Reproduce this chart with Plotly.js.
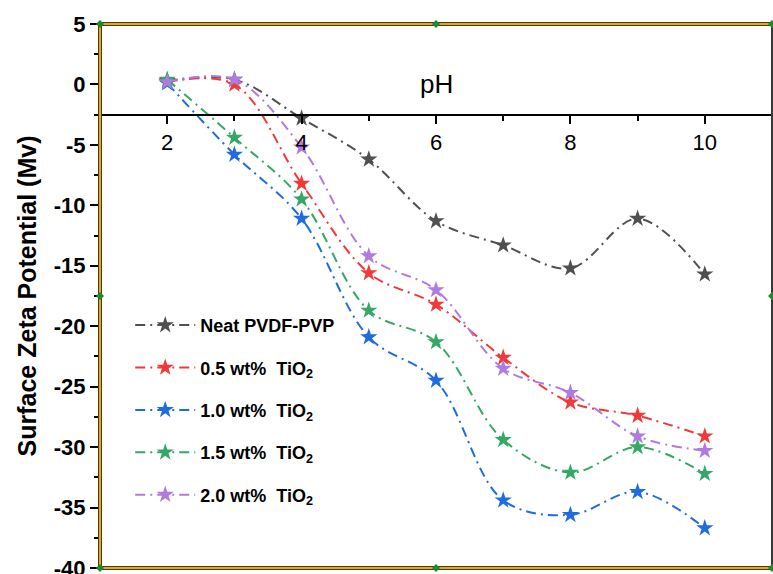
<!DOCTYPE html>
<html><head><meta charset="utf-8">
<script src="https://cdn.plot.ly/plotly-3.0.1.min.js"></script>
<style>body{margin:0;padding:0;background:#fff}#chart{width:773px;height:574px}</style>
</head><body><div id="chart"></div>
<script>
const pH = [2, 3, 4, 5, 6, 7, 8, 9, 10];
const neat = [0.3, 0.4, -2.8, -6.2, -11.3, -13.3, -15.2, -11.1, -15.7];
const tio05 = [0.2, 0.0, -8.2, -15.6, -18.2, -22.6, -26.3, -27.4, -29.1];
const tio10 = [0.1, -5.8, -11.1, -20.9, -24.5, -34.4, -35.6, -33.7, -36.7];
const tio15 = [0.4, -4.4, -9.5, -18.7, -21.3, -29.4, -32.1, -30.0, -32.2];
const tio20 = [0.2, 0.4, -5.2, -14.2, -17.0, -23.5, -25.5, -29.1, -30.3];
const names = ['Neat PVDF-PVP', '0.5 wt%  TiO<sub>2</sub>', '1.0 wt%  TiO<sub>2</sub>', '1.5 wt%  TiO<sub>2</sub>', '2.0 wt%  TiO<sub>2</sub>'];
const yTickVals = [5, 0, -5, -10, -15, -20, -25, -30, -35, -40];
const yTickText = ['5', '0', '-5', '-10', '-15', '-20', '-25', '-30', '-35', '-40'];
const xTickVals = [2, 4, 6, 8, 10];
const xTickText = ['2', '4', '6', '8', '10'];
const series = [neat, tio05, tio10, tio15, tio20];
const colors = ['#505050', '#f03a3a', '#1f6be0', '#34a864', '#b07be0'];

const traces = series.map((s, i) => ({
  x: pH, y: s, name: names[i], type: 'scatter', mode: 'lines+markers',
  line: {color: colors[i], width: 2, shape: 'spline', smoothing: 1, dash: '10px,5px,2px,5px'},
  marker: {symbol: 'star', size: 13, color: colors[i]},
  legendgroup: 'g' + i
}));

const yMin = -40, yMax = 5, xCross = -2.5;
const FONT = 'Arial, "Liberation Sans", sans-serif';

function diamond(xp, yp) {
  return {type: 'path', xref: 'paper', yref: 'paper', xsizemode: 'pixel', ysizemode: 'pixel',
    xanchor: xp, yanchor: yp, path: 'M -4 0 L 0 4 L 4 0 L 0 -4 Z',
    fillcolor: '#1f8a2a', line: {width: 0}, layer: 'above'};
}
const shapes = [];
[[0,0,1,0],[0,1,1,1],[0,0,0,1]].forEach(s => {
  shapes.push({type: 'line', xref: 'paper', yref: 'paper', x0: s[0], y0: s[1], x1: s[2], y1: s[3], line: {color: '#3a3a3a', width: 4}, layer: 'above'});
});
shapes.push({type: 'line', xref: 'paper', yref: 'paper', x0: 1, y0: 0, x1: 1, y1: 1, line: {color: '#3a3a3a', width: 2}, layer: 'above'});
[[0,0,1,0],[0,1,1,1],[0,0,0,1]].forEach(s => {
  shapes.push({type: 'line', xref: 'paper', yref: 'paper', x0: s[0], y0: s[1], x1: s[2], y1: s[3], line: {color: '#f0a800', width: 2}, layer: 'above'});
});
[[0,0],[0.5,0],[1,0],[0,0.5],[1,0.5],[0,1],[0.5,1],[1,1]].forEach(p => shapes.push(diamond(p[0], p[1])));

const layout = {
  width: 773, height: 574,
  margin: {l: 100, r: 1, t: 24, b: 6},
  paper_bgcolor: '#fff', plot_bgcolor: '#fff',
  showlegend: true,
  legend: {x: 0.045, y: 0.48, xanchor: 'left', yanchor: 'top', bgcolor: 'rgba(0,0,0,0)',
    font: {family: FONT, size: 18, color: '#000', weight: 'bold'},
    itemwidth: 60, tracegroupgap: 16, traceorder: 'grouped'},
  xaxis: {range: [1, 11], anchor: 'free', position: (xCross - yMin) / (yMax - yMin),
    tickmode: 'array', tickvals: xTickVals, ticktext: xTickText,
    ticks: 'outside', ticklen: 8, tickwidth: 2, tickcolor: '#000',
    showline: true, linecolor: '#000', linewidth: 2, showgrid: false, zeroline: false,
    minor: {dtick: 1, ticks: 'outside', ticklen: 5, tickwidth: 2, tickcolor: '#000', showgrid: false},
    tickfont: {family: FONT, size: 22, color: '#000'}},
  yaxis: {range: [yMin, yMax], domain: [0, 1],
    tickmode: 'array', tickvals: yTickVals, ticktext: yTickText,
    ticks: 'outside', ticklen: 9, tickwidth: 2, tickcolor: '#000', ticklabeloverflow: 'allow',
    showline: false, showgrid: false, zeroline: false,
    minor: {dtick: 2.5, ticks: 'outside', ticklen: 5, tickwidth: 2, tickcolor: '#000', showgrid: false},
    tickfont: {family: FONT, size: 22, color: '#000', weight: 'bold'},
    title: {text: 'Surface Zeta Potential (Mv)', standoff: 10,
      font: {family: FONT, size: 25, color: '#000', weight: 'bold'}}},
  annotations: [{text: 'pH', xref: 'paper', yref: 'y', x: 0.5, y: 0, xanchor: 'center', yanchor: 'middle',
    showarrow: false, font: {family: FONT, size: 26, color: '#000'}}],
  shapes: shapes
};

Plotly.newPlot('chart', traces, layout, {displayModeBar: false});
</script></body></html>
